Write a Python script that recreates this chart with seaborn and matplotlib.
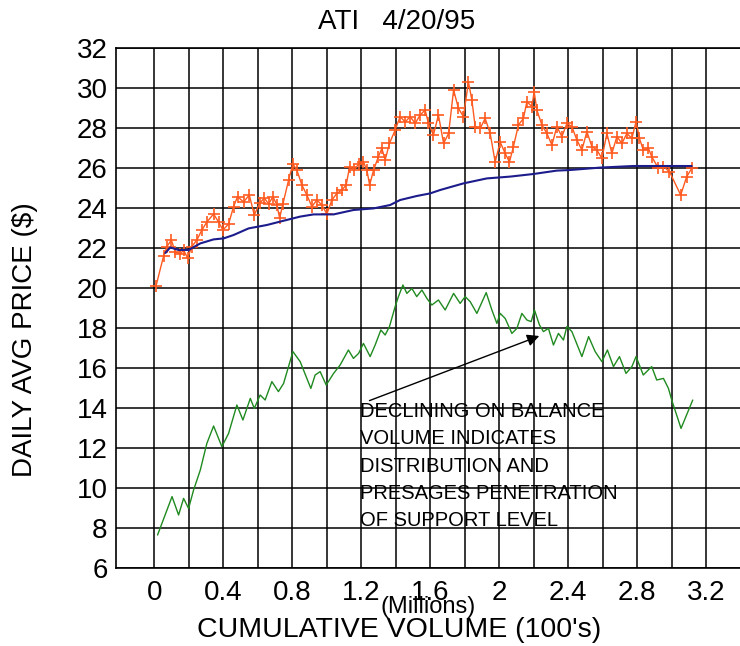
import numpy as np
import pandas as pd
import seaborn as sns
import matplotlib.pyplot as plt

# ---- data ----
price_x = [0.01, 0.054, 0.073, 0.099, 0.122, 0.151, 0.17, 0.193, 0.218, 0.247,
           0.276, 0.305, 0.344, 0.373, 0.398, 0.431, 0.46, 0.483, 0.518, 0.551,
           0.58, 0.611, 0.638, 0.663, 0.688, 0.711, 0.727, 0.746, 0.779, 0.804,
           0.827, 0.856, 0.885, 0.914, 0.943, 0.972, 1.001, 1.03, 1.059, 1.088,
           1.113, 1.133, 1.16, 1.185, 1.213, 1.233, 1.249, 1.272, 1.3, 1.32,
           1.339, 1.364, 1.397, 1.426, 1.455, 1.484, 1.513, 1.542, 1.571, 1.59,
           1.619, 1.648, 1.678, 1.707, 1.736, 1.764, 1.793, 1.822, 1.842, 1.861,
           1.89, 1.919, 1.948, 1.977, 2.006, 2.035, 2.06, 2.083, 2.112, 2.141,
           2.161, 2.19, 2.203, 2.219, 2.248, 2.277, 2.306, 2.335, 2.364, 2.393,
           2.422, 2.451, 2.48, 2.509, 2.538, 2.567, 2.596, 2.625, 2.654, 2.683,
           2.712, 2.741, 2.77, 2.794, 2.814, 2.836, 2.866, 2.885, 2.924, 2.953,
           2.988, 3.053, 3.088, 3.117]
price_y = [20.1, 21.6, 22.07, 22.4, 21.8, 21.7, 21.9, 21.5, 22.07, 22.4,
           22.9, 23.3, 23.7, 23.3, 22.9, 23.2, 24.07, 24.57, 24.3, 24.65,
           23.65, 24.23, 24.5, 24.2, 24.57, 24.15, 23.5, 24.2, 25.4, 26.2,
           25.9, 25.15, 24.65, 24.07, 24.4, 24.15, 23.7, 24.4, 24.73, 24.9,
           25.15, 26.07, 25.9, 26.2, 26.3, 25.9, 25.15, 25.9, 26.57, 26.98,
           26.4, 27.23, 27.9, 28.57, 28.3, 28.57, 28.23, 28.65, 28.9, 28.23,
           27.65, 28.65, 27.23, 27.73, 29.9, 28.98, 28.57, 30.3, 29.4, 28.07,
           27.98, 28.48, 27.73, 26.3, 27.3, 26.73, 26.3, 27.07, 28.15, 28.48,
           29.32, 29.07, 29.82, 28.9, 28.15, 27.73, 27.15, 28.07, 27.57, 28.23,
           28.07, 27.4, 26.9, 27.82, 27.07, 26.9, 26.48, 27.73, 26.73, 27.57,
           27.23, 27.73, 27.48, 28.32, 27.48, 26.9, 26.98, 26.57, 25.98, 26.07,
           25.82, 24.65, 25.57, 25.98]

avg_x = [0.064, 0.093, 0.141, 0.199, 0.267, 0.344, 0.402, 0.46, 0.547, 0.653,
         0.73, 0.846, 0.924, 1.04, 1.155, 1.272, 1.368, 1.426, 1.522, 1.6,
         1.658, 1.793, 1.929, 2.064, 2.199, 2.335, 2.412, 2.586, 2.78, 3.117]
avg_y = [21.75, 22.03, 21.9, 21.9, 22.23, 22.43, 22.48, 22.65, 22.98, 23.15,
         23.32, 23.57, 23.68, 23.68, 23.9, 23.98, 24.15, 24.4, 24.6, 24.73,
         24.9, 25.23, 25.48, 25.57, 25.7, 25.87, 25.9, 26.02, 26.1, 26.1]

obv_x = [0.019, 0.103, 0.141, 0.17, 0.199, 0.228, 0.267, 0.286, 0.305, 0.344,
         0.392, 0.431, 0.479, 0.514, 0.557, 0.58, 0.614, 0.643, 0.682, 0.72,
         0.75, 0.804, 0.846, 0.908, 0.933, 0.962, 0.997, 1.04, 1.078, 1.126,
         1.155, 1.185, 1.213, 1.252, 1.281, 1.314, 1.339, 1.364, 1.397, 1.416,
         1.442, 1.465, 1.494, 1.522, 1.552, 1.581, 1.61, 1.648, 1.687, 1.736,
         1.774, 1.803, 1.832, 1.871, 1.925, 1.958, 1.987, 2.006, 2.035, 2.074,
         2.103, 2.132, 2.161, 2.186, 2.205, 2.234, 2.257, 2.286, 2.315, 2.344,
         2.373, 2.393, 2.422, 2.48, 2.519, 2.557, 2.596, 2.628, 2.663, 2.698,
         2.736, 2.77, 2.794, 2.836, 2.885, 2.914, 2.953, 2.982, 3.001, 3.055,
         3.123]
obv_y = [7.65, 9.57, 8.65, 9.48, 8.98, 9.9, 10.9, 11.57, 12.23, 13.1,
         12.07, 12.73, 14.15, 13.4, 14.48, 13.98, 14.65, 14.4, 15.32, 14.82,
         15.23, 16.82, 16.32, 14.98, 15.65, 15.82, 15.15, 15.73, 16.15, 16.9,
         16.48, 16.73, 17.23, 16.57, 17.15, 17.9, 17.65, 18.07, 19.07, 19.57,
         20.15, 19.73, 19.98, 19.57, 19.9, 19.48, 19.15, 19.4, 18.9, 19.73,
         19.23, 19.57, 19.32, 18.73, 19.77, 18.9, 18.23, 18.73, 18.48, 17.73,
         17.98, 18.73, 18.4, 18.32, 18.9, 18.15, 17.82, 17.98, 17.15, 17.73,
         17.4, 18.07, 17.82, 16.57, 17.57, 16.82, 16.32, 16.9, 16.07, 16.57,
         15.73, 16.07, 16.57, 15.65, 16.07, 15.4, 15.48, 14.98, 14.4, 12.98,
         14.4]

x_major = [0, 0.4, 0.8, 1.2, 1.6, 2.0, 2.4, 2.8, 3.2]
x_labels = ["0", "0.4", "0.8", "1.2", "1.6", "2", "2.4", "2.8", "3.2"]
x_minor = [0.2, 0.6, 1.0, 1.4, 1.8, 2.2, 2.6, 3.0]
y_ticks = list(range(6, 33, 2))

note = ("DECLINING ON BALANCE\nVOLUME INDICATES\nDISTRIBUTION AND\n"
        "PRESAGES PENETRATION\nOF SUPPORT LEVEL")

# ---- style ----
sns.set_style("white")
plt.rcParams['font.family'] = ['Liberation Sans', 'DejaVu Sans']
plt.rcParams['text.color'] = 'black'
plt.rcParams['axes.labelcolor'] = 'black'

fig = plt.figure(figsize=(7.4, 6.46), dpi=100)
ax = fig.add_axes([116/740, 78/646, 624/740, 520/646])

# lines
sns.lineplot(x=price_x, y=price_y, ax=ax, color="#ff5a1f", linewidth=1,
             marker="+", markersize=8, markeredgewidth=1.2, markeredgecolor="#ff5a1f",
             sort=False, estimator=None)
sns.lineplot(x=avg_x, y=avg_y, ax=ax, color="#1c1c8c", linewidth=1.5,
             sort=False, estimator=None)
sns.lineplot(x=obv_x, y=obv_y, ax=ax, color="#1f8a1f", linewidth=1,
             sort=False, estimator=None)

# axes, grid
ax.set_xlim(-0.222, 3.397)
ax.set_ylim(6, 32)
ax.set_xticks(x_major)
ax.set_xticklabels(x_labels)
ax.set_xticks(x_minor, minor=True)
ax.set_yticks(y_ticks)
ax.grid(which="both", color="black", linewidth=1.1)
ax.set_axisbelow(True)
ax.tick_params(which="both", length=0, labelsize=20, colors="black")
ax.tick_params(axis="x", pad=9)
ax.tick_params(axis="y", pad=6)
for side in ["left", "bottom", "top"]:
    ax.spines[side].set_color("black")
    ax.spines[side].set_linewidth(1.2)
ax.spines["right"].set_visible(False)

ax.set_ylabel("DAILY AVG PRICE ($)", fontsize=20)
ax.yaxis.set_label_coords(-0.125, 0.44)
ax.set_xlabel("CUMULATIVE VOLUME (100's)", fontsize=20.5)
ax.xaxis.set_label_coords(0.4535, -0.094)

fig.text(397/740, 1 - 22/646, "ATI   4/20/95", ha="center", va="center", fontsize=20)
fig.text(428/740, 1 - 607/646, "(Millions)", ha="center", va="center", fontsize=17)

# annotation
ax.annotate("", xy=(2.248, 17.65), xytext=(1.233, 14.32),
            arrowprops=dict(arrowstyle="-|>", color="black", lw=1, mutation_scale=18))
ax.text(1.193, 14.3, note, ha="left", va="top", fontsize=14.5, linespacing=1.55)

plt.savefig("out.png", dpi=100)
